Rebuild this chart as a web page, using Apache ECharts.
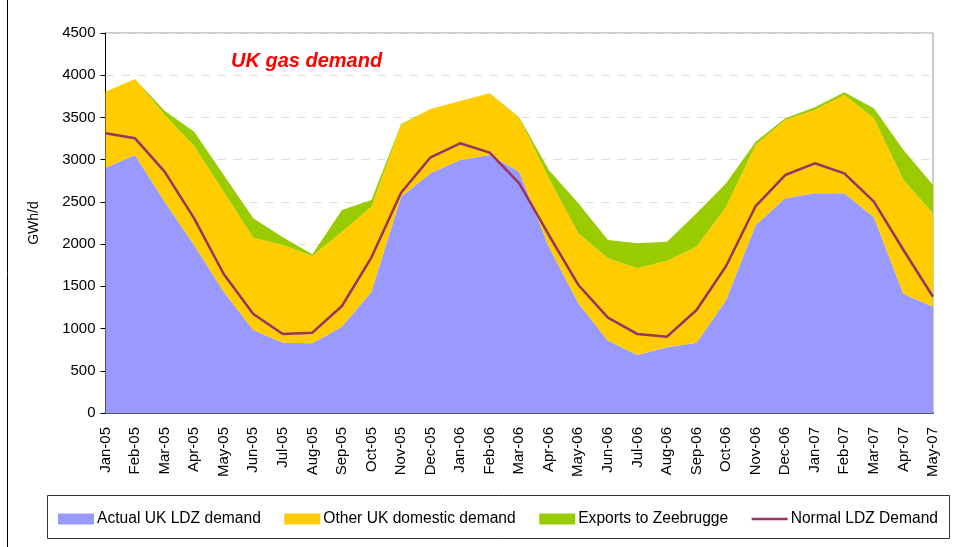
<!doctype html>
<html lang="en">
<head>
    <meta charset="UTF-8">
    <title>UK gas demand</title>
    <script src="https://cdn.jsdelivr.net/npm/echarts@6/dist/echarts.min.js"></script>
    <style>
        html, body { margin: 0; padding: 0; background: #fff; }
        #chart { width: 964px; height: 547px; }
    </style>
</head>
<body>
<div id="chart"></div>
<script type="text/javascript">
    // months on the x axis
    var months = ['Jan-05','Feb-05','Mar-05','Apr-05','May-05','Jun-05','Jul-05','Aug-05','Sep-05','Oct-05',
        'Nov-05','Dec-05','Jan-06','Feb-06','Mar-06','Apr-06','May-06','Jun-06','Jul-06','Aug-06',
        'Sep-06','Oct-06','Nov-06','Dec-06','Jan-07','Feb-07','Mar-07','Apr-07','May-07'];

    // GWh/d
    var actualLDZ = [2905,3055,2503,1990,1437,983,833,825,1022,1437,
        2562,2838,2996,3055,2858,1970,1299,857,687,778,
        833,1338,2226,2542,2601,2601,2317,1409,1259];
    var otherDomestic = [900,900,1026,1172,1184,1093,1157,1034,1125,1006,
        849,762,699,731,639,809,829,975,1026,1026,
        1137,1105,948,928,987,1165,1173,1350,1106];
    var exportsZee = [0,0,51,170,197,229,90,20,257,79,
        10,0,0,0,5,99,355,217,296,225,
        395,277,39,20,32,32,118,356,335];
    var normalLDZ = [3312,3253,2858,2305,1646,1172,935,951,1267,1844,
        2609,3028,3194,3083,2720,2108,1516,1129,935,904,
        1220,1741,2451,2818,2957,2838,2503,1930,1377];

    var yTicks = [0, 4500, 500]; // min, max, step

    var font = 'Liberation Sans, Arial, sans-serif';
    // thin line for the legend, with corner dots so the box stays 36x11
    var lineIcon = 'path://M0,0L0.01,0M0,4.25L36,4.25L36,6.75L0,6.75ZM35.99,11L36,11';
    var myChart = echarts.init(document.getElementById('chart'));

    function areaSeries(name, data, color) {
        return {
            name: name,
            type: 'line',
            stack: 'demand',
            symbol: 'none',
            lineStyle: {width: 0, color: color},
            itemStyle: {color: color},
            areaStyle: {color: color, opacity: 1},
            data: data
        };
    }

    myChart.setOption({
        animation: false,
        title: {
            text: 'UK gas demand',
            left: 226,
            top: 46,
            textStyle: {color: '#ff0000', fontSize: 20, fontWeight: 'bold', fontStyle: 'italic', fontFamily: font}
        },
        grid: {
            left: 105.5, right: 31, top: 33, bottom: 134,
            show: true, borderColor: '#999', borderWidth: 1
        },
        legend: {
            left: 53,
            top: 506,
            itemWidth: 36,
            itemHeight: 11,
            itemGap: 23.5,
            textStyle: {fontSize: 15.6, color: '#000', fontFamily: font, padding: [0, 0, 0, -2]},
            data: [
                {name: 'Actual UK LDZ demand', icon: 'rect'},
                {name: 'Other UK domestic demand', icon: 'rect'},
                {name: 'Exports to Zeebrugge', icon: 'rect'},
                {name: 'Normal LDZ Demand', icon: lineIcon}
            ]
        },
        graphic: [
            {type: 'rect', shape: {x: 47.5, y: 495.5, width: 902, height: 43},
                style: {fill: 'none', stroke: '#333', lineWidth: 1}, z: -1},
            {type: 'line', shape: {x1: 7.5, y1: 0, x2: 7.5, y2: 547},
                style: {stroke: '#000', lineWidth: 1}}
        ],
        xAxis: {
            type: 'category',
            boundaryGap: false,
            data: months,
            axisLine: {lineStyle: {color: '#555', width: 2}},
            axisTick: {show: false},
            axisLabel: {rotate: 90, interval: 0, margin: 14, fontSize: 15, color: '#000', fontFamily: font}
        },
        yAxis: {
            type: 'value',
            min: yTicks[0], max: yTicks[1], interval: yTicks[2],
            name: 'GWh/d',
            nameLocation: 'middle',
            nameGap: 64,
            nameTextStyle: {fontSize: 14, color: '#000', fontFamily: font},
            axisLine: {show: true, lineStyle: {color: '#000'}},
            axisTick: {show: true, length: 5, lineStyle: {color: '#000'}},
            axisLabel: {margin: 10, fontSize: 15, color: '#000', fontFamily: font,
                formatter: function (v) { return String(v); }},
            splitLine: {lineStyle: {color: '#ddd', type: [8, 8]}}
        },
        series: [
            areaSeries('Actual UK LDZ demand', actualLDZ, '#9999ff'),
            areaSeries('Other UK domestic demand', otherDomestic, '#ffcc00'),
            areaSeries('Exports to Zeebrugge', exportsZee, '#99cc00'),
            {
                name: 'Normal LDZ Demand',
                type: 'line',
                symbol: 'none',
                z: 5,
                itemStyle: {color: '#993366'},
                lineStyle: {color: '#993366', width: 2.5},
                data: normalLDZ
            }
        ]
    });
</script>
</body>
</html>
